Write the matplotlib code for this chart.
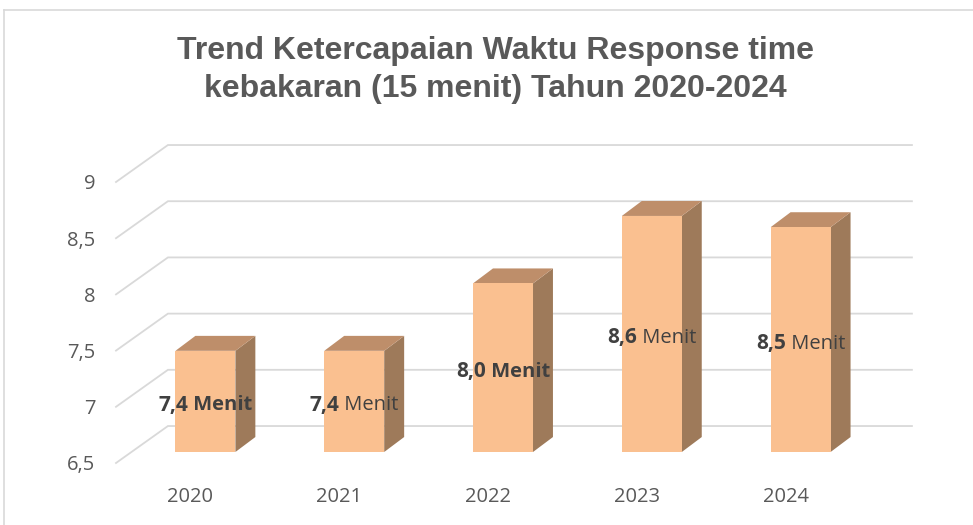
import matplotlib
matplotlib.use("Agg")
import matplotlib.pyplot as plt
from matplotlib.patches import Polygon
from matplotlib.lines import Line2D
from matplotlib.transforms import ScaledTranslation

# data
years = ["2020", "2021", "2022", "2023", "2024"]
values = [7.4, 7.4, 8.0, 8.6, 8.5]
value_labels = ["7,4", "7,4", "8,0", "8,6", "8,5"]
unit_bold = [True, False, True, False, False]
y_ticks = [6.5, 7, 7.5, 8, 8.5, 9]
y_ticklabels = ["6,5", "7", "7,5", "8", "8,5", "9"]

title = "Trend Ketercapaian Waktu Response time\nkebakaran (15 menit) Tahun 2020-2024"

# style / fake 3d geometry (in data units)
FRONT = "#FAC090"
TOP = "#BE8E6A"
SIDE = "#9E7A5A"
GRID = "#D9D9D9"
TXT = "#595959"
LBL = "#404040"
WALL_DX, WALL_DY = 0.349, 0.329     # floor depth (back wall offset)
BAR_DX, BAR_DY = 0.101, 0.098       # bar front plane offset
DEP_DX, DEP_DY = 0.134, 0.133       # bar depth
BAR_W = 0.403
Y0, Y1 = 6.5, 9

fig = plt.figure(figsize=(9.73, 5.25), dpi=100)
ax = fig.add_axes([116 / 973, 62 / 525, 744 / 973, 281 / 525])
ax.set_xlim(-0.5, 4.5)
ax.set_ylim(Y0, Y1)
for s in ax.spines.values():
    s.set_visible(False)

ax.set_yticks(y_ticks)
ax.set_yticklabels(y_ticklabels)
ax.set_xticks(range(len(years)))
ax.set_xticklabels(years)
ax.tick_params(axis="y", length=0, pad=15, labelsize=14.5, labelcolor=TXT)
ax.tick_params(axis="x", length=0, pad=17, labelsize=14.5, labelcolor=TXT)
for lab in ax.get_xticklabels() + ax.get_yticklabels():
    lab.set_fontfamily("Open Sans")

# gridlines: left wall diagonal + back wall
for v in y_ticks:
    xs = [-0.5, -0.5 + WALL_DX, 4.5 + WALL_DX]
    ys = [v, v + WALL_DY, v + WALL_DY]
    ax.plot(xs, ys, color=GRID, lw=1.3, clip_on=False, zorder=1,
            solid_joinstyle="miter")

# bars
for i, v in enumerate(values):
    x0 = i - BAR_W / 2 + BAR_DX
    x1 = i + BAR_W / 2 + BAR_DX
    b = Y0 + BAR_DY
    t = v + BAR_DY
    side = [(x1, b), (x1 + DEP_DX, b + DEP_DY), (x1 + DEP_DX, t + DEP_DY), (x1, t)]
    top = [(x0, t), (x1, t), (x1 + DEP_DX, t + DEP_DY), (x0 + DEP_DX, t + DEP_DY)]
    front = [(x0, b), (x1, b), (x1, t), (x0, t)]
    ax.add_patch(Polygon(side, closed=True, fc=SIDE, ec="none", clip_on=False, zorder=2))
    ax.add_patch(Polygon(top, closed=True, fc=TOP, ec="none", clip_on=False, zorder=2))
    ax.add_patch(Polygon(front, closed=True, fc=FRONT, ec="none", clip_on=False, zorder=3))

# data labels: bold number + "Menit"
label_parts = []
for i, v in enumerate(values):
    lx = i + BAR_DX
    ly = (Y0 + v) / 2 + BAR_DY
    t1 = ax.text(lx, ly, value_labels[i], fontsize=15, fontweight="bold",
                 family="Open Sans", color=LBL, ha="left", va="center", zorder=5)
    t2 = ax.text(lx, ly, " Menit", fontsize=14.5,
                 fontweight="bold" if unit_bold[i] else "normal",
                 family="Open Sans", color=LBL, ha="left", va="center", zorder=5)
    label_parts.append((t1, t2))

fig.canvas.draw()
r = fig.canvas.get_renderer()
dy = -4 / fig.dpi
for t1, t2 in label_parts:
    w1 = t1.get_window_extent(r).width
    w2 = t2.get_window_extent(r).width
    tot = w1 + w2
    t1.set_transform(ax.transData + ScaledTranslation(-tot / 2 / fig.dpi, dy, fig.dpi_scale_trans))
    t2.set_transform(ax.transData + ScaledTranslation((w1 - tot / 2) / fig.dpi, dy, fig.dpi_scale_trans))

fig.text(495 / 973, 1 - 70 / 525, title, ha="center", va="center", fontsize=23,
         fontweight="bold", family="Liberation Sans", color=TXT, linespacing=1.33)

# chart area border (only top and left edges visible)
fig.add_artist(Line2D([4 / 973, 1], [1 - 9.5 / 525, 1 - 9.5 / 525],
                      transform=fig.transFigure, color=GRID, lw=1.2))
fig.add_artist(Line2D([4 / 973, 4 / 973], [0, 1 - 9.5 / 525],
                      transform=fig.transFigure, color=GRID, lw=1.2))

fig.savefig("out.png", dpi=100)
